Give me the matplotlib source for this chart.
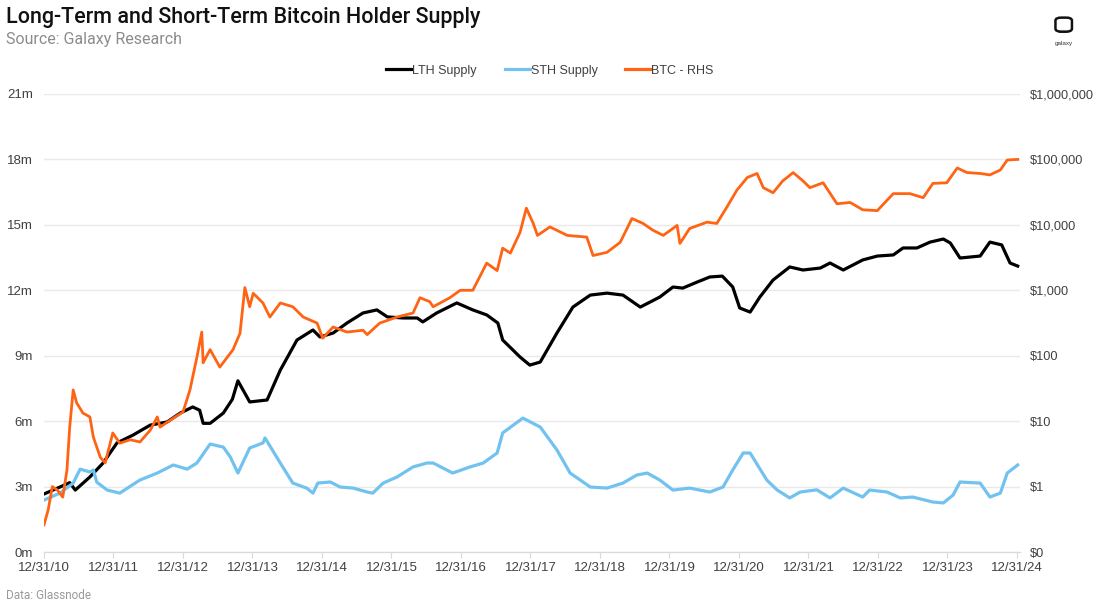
import numpy as np
import matplotlib.pyplot as plt
from matplotlib.lines import Line2D
from matplotlib.patches import FancyBboxPatch
from matplotlib.ticker import FixedLocator, NullLocator

# LTH supply (millions of BTC), x as decimal year
lth_x = [2011.00, 2011.23, 2011.37, 2011.45, 2011.66, 2011.85, 2012.05, 2012.28, 2012.53,
         2012.77, 2012.96, 2013.14, 2013.24, 2013.29, 2013.39, 2013.58, 2013.71, 2013.79,
         2013.96, 2014.21, 2014.40, 2014.64, 2014.87, 2014.97, 2015.16, 2015.36, 2015.59,
         2015.79, 2015.94, 2016.17, 2016.37, 2016.45, 2016.65, 2016.94, 2017.17, 2017.37,
         2017.53, 2017.60, 2017.85, 2017.99, 2018.14, 2018.38, 2018.61, 2018.86, 2019.10,
         2019.33, 2019.58, 2019.86, 2020.05, 2020.19, 2020.40, 2020.58, 2020.76, 2020.91,
         2021.01, 2021.16, 2021.30, 2021.49, 2021.73, 2021.92, 2022.17, 2022.31, 2022.50,
         2022.78, 2022.99, 2023.22, 2023.36, 2023.56, 2023.75, 2023.94, 2024.04, 2024.18,
         2024.47, 2024.61, 2024.78, 2024.90, 2025.01]
lth_y = [2.66, 2.98, 3.18, 2.84, 3.44, 4.08, 5.00, 5.36, 5.82,
         5.96, 6.37, 6.65, 6.50, 5.90, 5.90, 6.37, 7.00, 7.85,
         6.88, 6.97, 8.34, 9.72, 10.18, 9.86, 10.04, 10.50, 10.96,
         11.10, 10.78, 10.73, 10.73, 10.55, 10.96, 11.42, 11.10, 10.87,
         10.50, 9.72, 8.94, 8.57, 8.71, 10.04, 11.23, 11.78, 11.87,
         11.78, 11.23, 11.69, 12.15, 12.10, 12.38, 12.61, 12.65, 12.15,
         11.19, 11.00, 11.69, 12.47, 13.07, 12.93, 13.02, 13.25, 12.93,
         13.39, 13.57, 13.62, 13.94, 13.94, 14.21, 14.35, 14.17, 13.48,
         13.57, 14.21, 14.08, 13.25, 13.11]

# STH supply (millions of BTC)
sth_x = [2011.00, 2011.23, 2011.42, 2011.52, 2011.66, 2011.71, 2011.76, 2011.91, 2012.09,
         2012.38, 2012.63, 2012.86, 2013.06, 2013.20, 2013.39, 2013.58, 2013.68, 2013.79,
         2013.96, 2014.15, 2014.18, 2014.40, 2014.58, 2014.78, 2014.87, 2014.94, 2015.12,
         2015.26, 2015.45, 2015.65, 2015.73, 2015.88, 2016.08, 2016.31, 2016.51, 2016.60,
         2016.88, 2017.13, 2017.32, 2017.52, 2017.60, 2017.89, 2018.14, 2018.38, 2018.57,
         2018.86, 2019.10, 2019.33, 2019.53, 2019.68, 2019.86, 2020.05, 2020.29, 2020.58,
         2020.77, 2020.91, 2021.06, 2021.16, 2021.40, 2021.55, 2021.73, 2021.88, 2022.12,
         2022.31, 2022.50, 2022.78, 2022.88, 2023.13, 2023.32, 2023.50, 2023.79, 2023.94,
         2024.08, 2024.18, 2024.47, 2024.61, 2024.76, 2024.86, 2025.01]
sth_y = [2.38, 2.70, 3.16, 3.80, 3.67, 3.76, 3.20, 2.84, 2.70,
         3.30, 3.62, 3.99, 3.80, 4.08, 4.95, 4.81, 4.36, 3.62,
         4.77, 5.00, 5.23, 4.08, 3.16, 2.93, 2.70, 3.16, 3.21,
         2.98, 2.93, 2.75, 2.70, 3.16, 3.44, 3.90, 4.08, 4.08,
         3.62, 3.90, 4.08, 4.54, 5.46, 6.14, 5.73, 4.68, 3.62,
         2.98, 2.93, 3.16, 3.53, 3.62, 3.30, 2.84, 2.93, 2.75,
         2.98, 3.76, 4.54, 4.54, 3.30, 2.84, 2.48, 2.75, 2.85,
         2.48, 2.93, 2.52, 2.84, 2.75, 2.48, 2.52, 2.29, 2.25,
         2.61, 3.21, 3.16, 2.52, 2.70, 3.62, 3.99]

# BTC price (USD, right axis)
btc_x = [2011.00, 2011.06, 2011.12, 2011.19, 2011.27, 2011.33, 2011.37, 2011.42, 2011.47,
         2011.56, 2011.66, 2011.71, 2011.81, 2011.88, 2011.99, 2012.09, 2012.24, 2012.38,
         2012.53, 2012.63, 2012.67, 2012.86, 2013.00, 2013.10, 2013.20, 2013.27, 2013.29,
         2013.39, 2013.53, 2013.72, 2013.82, 2013.89, 2013.96, 2014.01, 2014.15, 2014.25,
         2014.40, 2014.58, 2014.73, 2014.93, 2015.01, 2015.16, 2015.36, 2015.59, 2015.65,
         2015.83, 2016.08, 2016.31, 2016.41, 2016.55, 2016.60, 2016.84, 2016.99, 2017.17,
         2017.37, 2017.52, 2017.60, 2017.71, 2017.85, 2017.94, 2018.04, 2018.10, 2018.28,
         2018.53, 2018.81, 2018.90, 2019.10, 2019.29, 2019.46, 2019.62, 2019.76, 2019.91,
         2020.11, 2020.15, 2020.29, 2020.54, 2020.68, 2020.83, 2020.97, 2021.12, 2021.26,
         2021.35, 2021.49, 2021.63, 2021.78, 2021.92, 2022.02, 2022.21, 2022.41, 2022.60,
         2022.78, 2022.99, 2023.22, 2023.46, 2023.65, 2023.79, 2023.99, 2024.14, 2024.28,
         2024.47, 2024.61, 2024.76, 2024.86, 2025.01]
btc_y = [0.26, 0.44, 1.0, 0.89, 0.69, 1.79, 8.1, 30, 19,
         13.3, 11.6, 5.7, 2.8, 2.3, 6.6, 4.6, 5.2, 4.8,
         7.3, 11.6, 8.1, 11.1, 13.8, 30, 95, 230, 78,
         124, 67, 124, 220, 1100, 560, 900, 640, 390,
         640, 560, 390, 315, 185, 275, 230, 245, 210,
         315, 390, 450, 770, 670, 560, 770, 1000, 1000,
         2600, 2000, 4400, 3700, 7700, 18000, 10500, 6900, 9300,
         6900, 6500, 3400, 3800, 5400, 12500, 10500, 8300, 6900,
         9800, 5200, 8800, 11000, 10500, 19000, 34000, 53000, 61000,
         37000, 31000, 47000, 63000, 47000, 37000, 44000, 21000, 22000,
         17000, 16500, 30000, 30000, 26000, 43000, 44000, 74000, 63000,
         61000, 58000, 69000, 98000, 100000]

tick_years = list(range(2011, 2026))
tick_labels = ['12/31/%02d' % (y - 2001) for y in tick_years]
left_ticks = [0, 3, 6, 9, 12, 15, 18, 21]
right_ticks = [0.1, 1, 10, 100, 1000, 10000, 100000, 1000000]
right_labels = ['$0', '$1', '$10', '$100', '$1,000', '$10,000', '$100,000', '$1,000,000']

c_lth = '#000000'
c_sth = '#72C2F0'
c_btc = '#FF6414'
tick_color = '#404040'
grid_color = '#E9E9E9'

plt.rcParams['font.family'] = ['Liberation Sans', 'DejaVu Sans']

fig = plt.figure(figsize=(11, 6.08), dpi=100)
ax = fig.add_axes([0.04, 0.0921, 0.8877, 0.7533])
ax2 = ax.twinx()

ax.plot(lth_x, lth_y, color=c_lth, lw=2.3, solid_joinstyle='round')
ax.plot(sth_x, sth_y, color=c_sth, lw=2.3, solid_joinstyle='round')
ax2.plot(btc_x, btc_y, color=c_btc, lw=2.0, solid_joinstyle='round')

ax.set_xlim(2011.0, 2025.05)
ax.set_ylim(0, 21)
ax.set_yticks(left_ticks)
ax.set_yticklabels(['%dm' % v for v in left_ticks])
ax.set_xticks(tick_years)
ax.set_xticklabels(tick_labels)
ax.grid(axis='y', color=grid_color, lw=1.0)
ax.set_axisbelow(True)

ax2.set_yscale('log')
ax2.set_ylim(0.1, 1000000)
ax2.yaxis.set_major_locator(FixedLocator(right_ticks))
ax2.yaxis.set_minor_locator(NullLocator())
ax2.set_yticklabels(right_labels)

for a in (ax, ax2):
    for s in ('top', 'left', 'right'):
        a.spines[s].set_visible(False)
    a.spines['bottom'].set_color('#D9D9D9')
ax.tick_params(axis='x', colors='#D9D9D9', labelcolor=tick_color, labelsize=9.5,
               length=4, pad=3)
ax.tick_params(axis='y', length=0, labelcolor=tick_color, labelsize=9.5, pad=8)
ax2.tick_params(axis='y', length=0, labelcolor=tick_color, labelsize=9.2, pad=7)
for lbl in ax2.get_yticklabels():
    lbl.set_horizontalalignment('left')

handles = [Line2D([], [], color=c_lth, lw=2.3),
           Line2D([], [], color=c_sth, lw=2.3),
           Line2D([], [], color=c_btc, lw=2.3)]
fig.legend(handles, ['LTH Supply', 'STH Supply', 'BTC - RHS'], loc='center',
           bbox_to_anchor=(0.5, 0.884), ncol=3, frameon=False, fontsize=9,
           handlelength=2.0, handletextpad=0.1, columnspacing=2.2,
           labelcolor=tick_color)

fig.text(0.005, 0.972, 'Long-Term and Short-Term Bitcoin Holder Supply',
         fontsize=15.5, fontweight='medium', color='#111111', va='center',
         family=['Roboto', 'DejaVu Sans'])
fig.text(0.005, 0.935, 'Source: Galaxy Research', fontsize=11.5, color='#8C8C8C',
         va='center', family=['Roboto', 'DejaVu Sans'])
fig.text(0.005, 0.021, 'Data: Glassnode', fontsize=8.5, color='#9A9A9A',
         va='center', family=['Roboto', 'DejaVu Sans'])

# small logo top right
logo = FancyBboxPatch((0.9615, 0.950), 0.011, 0.019,
                      boxstyle='round,pad=0.002,rounding_size=0.005',
                      transform=fig.transFigure, fill=False, ec='#111111', lw=1.8)
fig.patches.append(logo)
fig.text(0.9668, 0.946, '\u2014', fontsize=6, color='#111111', ha='center',
         va='center', fontweight='bold')
fig.text(0.9668, 0.929, 'galaxy', fontsize=4.5, color='#333333', ha='center',
         va='center')

plt.savefig('out.png', dpi=100)
plt.close()
